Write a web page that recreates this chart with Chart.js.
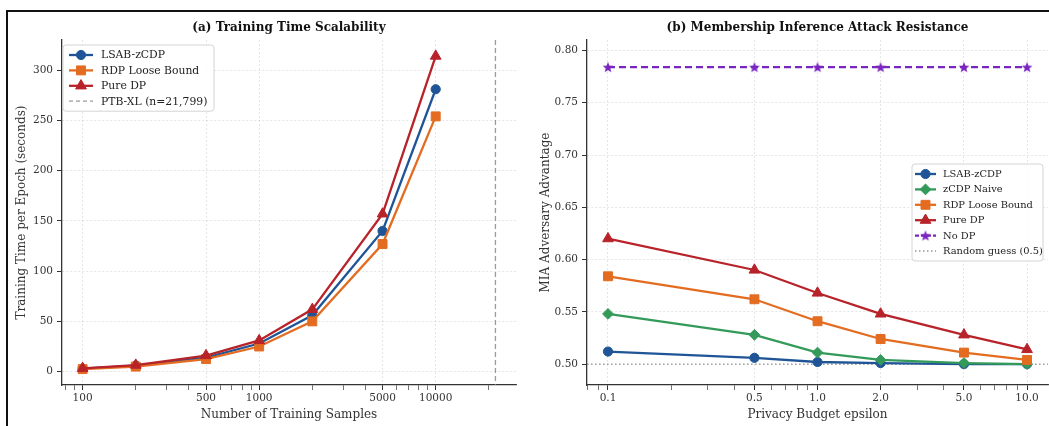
<!DOCTYPE html>
<html><head><meta charset="utf-8">
<script src="https://cdn.jsdelivr.net/npm/chart.js@4.4.1/dist/chart.umd.min.js"></script>
<style>
html,body{margin:0;padding:0;background:#fff;width:1049px;height:426px;overflow:hidden;}
#frame{position:absolute;left:6px;top:10px;width:1100px;height:500px;border-left:2px solid #111;border-top:2px solid #111;box-sizing:border-box;}
#wa{position:absolute;left:0;top:0;width:530px;height:426px;}
#wb{position:absolute;left:530px;top:0;width:519px;height:426px;}
</style></head><body>
<div id="frame"></div>
<div id="wa"><canvas id="ca"></canvas></div>
<div id="wb"><canvas id="cb"></canvas></div>
<script>
// ---------- data: panel (a) ----------
const sampleSizes = [100, 200, 500, 1000, 2000, 5000, 10000];
const timeLSAB = [3, 6, 14, 28, 56, 140, 281];
const timeRDP = [2.5, 5, 12.5, 25, 50, 127, 254];
const timePure = [3.3, 6.5, 16, 31, 62, 157, 314];
const ptbxlSize = 21799;
const timeXTicks = [100, 500, 1000, 5000, 10000];
const timeXMinor = [80, 90, 200, 300, 400, 600, 700, 800, 900, 2000, 3000, 4000, 6000, 7000, 8000, 9000, 20000];
const timeYTicks = [0, 50, 100, 150, 200, 250, 300];

// ---------- data: panel (b) ----------
const epsilons = [0.1, 0.5, 1.0, 2.0, 5.0, 10.0];
const miaLSAB = [0.512, 0.506, 0.502, 0.501, 0.500, 0.500];
const miaZCDP = [0.548, 0.528, 0.511, 0.504, 0.501, 0.500];
const miaRDP = [0.584, 0.562, 0.541, 0.524, 0.511, 0.504];
const miaPure = [0.620, 0.590, 0.568, 0.548, 0.528, 0.514];
const miaNoDP = [0.784, 0.784, 0.784, 0.784, 0.784, 0.784];
const randomGuess = 0.5;
const epsXTicks = [0.1, 0.5, 1.0, 2.0, 5.0, 10.0];
const epsXMinor = [0.08, 0.09, 0.2, 0.3, 0.4, 0.6, 0.7, 0.8, 0.9, 3, 4, 6, 7, 8, 9];
const miaYTicks = [0.50, 0.55, 0.60, 0.65, 0.70, 0.75, 0.80];

// ---------- styles ----------
const C = {
  blue: '#1f5596', orange: '#e36c21', red: '#b8232a', green: '#339a5a', purple: '#7a25c0'
};
const FONT = "'DejaVu Serif', serif";
const GRID = 'rgba(0,0,0,0.13)';
const AXIS = '#333333';
const LW = 2.3;

function starImage(color, size) {
  const c = document.createElement('canvas');
  c.width = c.height = size;
  const g = c.getContext('2d');
  const cx = size / 2, cy = size / 2 + 0.5, R = size / 2 - 0.3, r = R * 0.42;
  g.beginPath();
  for (let i = 0; i < 10; i++) {
    const a = -Math.PI / 2 + i * Math.PI / 5;
    const rr = i % 2 ? r : R;
    g.lineTo(cx + rr * Math.cos(a), cy + rr * Math.sin(a));
  }
  g.closePath();
  g.fillStyle = color;
  g.fill();
  return c;
}
const STAR = starImage(C.purple, 12);

function pts(xs, ys) { return xs.map((x, i) => ({x: x, y: ys[i]})); }

function series(label, xs, ys, color, style, radius, order, dash) {
  return {
    label: label, data: pts(xs, ys), borderColor: color, backgroundColor: color,
    borderWidth: LW, borderDash: dash || [], pointStyle: style, pointRadius: radius,
    pointHoverRadius: radius, pointBackgroundColor: color, pointBorderColor: color,
    pointBorderWidth: 1, tension: 0, order: order, fill: false, clip: false
  };
}

function drawMarker(ctx, style, x, y, color, r) {
  ctx.save();
  if (style instanceof HTMLCanvasElement) {
    ctx.drawImage(style, x - style.width / 2, y - style.height / 2);
    ctx.restore();
    return;
  }
  ctx.fillStyle = color; ctx.strokeStyle = color; ctx.lineWidth = 1;
  ctx.beginPath();
  if (style === 'circle') ctx.arc(x, y, r, 0, Math.PI * 2);
  else if (style === 'rect') { const s = r * Math.SQRT1_2; ctx.rect(x - s, y - s, 2 * s, 2 * s); }
  else if (style === 'rectRot') { ctx.moveTo(x, y - r); ctx.lineTo(x + r, y); ctx.lineTo(x, y + r); ctx.lineTo(x - r, y); ctx.closePath(); }
  else if (style === 'triangle') {
    let a = 0;
    ctx.moveTo(x + Math.sin(a) * r, y - Math.cos(a) * r);
    a += 2 * Math.PI / 3; ctx.lineTo(x + Math.sin(a) * r, y - Math.cos(a) * r);
    a += 2 * Math.PI / 3; ctx.lineTo(x + Math.sin(a) * r, y - Math.cos(a) * r);
    ctx.closePath();
  }
  ctx.fill(); ctx.stroke();
  ctx.restore();
}

function roundRect(ctx, x, y, w, h, r) {
  ctx.beginPath();
  ctx.moveTo(x + r, y); ctx.lineTo(x + w - r, y); ctx.quadraticCurveTo(x + w, y, x + w, y + r);
  ctx.lineTo(x + w, y + h - r); ctx.quadraticCurveTo(x + w, y + h, x + w - r, y + h);
  ctx.lineTo(x + r, y + h); ctx.quadraticCurveTo(x, y + h, x, y + h - r);
  ctx.lineTo(x, y + r); ctx.quadraticCurveTo(x, y, x + r, y); ctx.closePath();
}

// custom matplotlib-like legend
const mplLegend = {
  id: 'mplLegend',
  afterDraw(chart, args, o) {
    if (!o || !o.items) return;
    const ctx = chart.ctx, ca = chart.chartArea;
    const rowH = o.rowHeight, padY = o.padY;
    const h = padY * 2 + rowH * (o.items.length - 1);
    const w = o.width;
    let x0, y0;
    if (o.loc === 'upper left') { x0 = ca.left + o.offsetX; y0 = ca.top + o.offsetY; }
    else { x0 = ca.right - o.offsetX - w; y0 = (ca.top + ca.bottom) / 2 - h / 2; }
    ctx.save();
    roundRect(ctx, x0, y0, w, h, 3);
    ctx.fillStyle = 'rgba(255,255,255,0.85)'; ctx.fill();
    ctx.strokeStyle = '#d4d4d4'; ctx.lineWidth = 1; ctx.stroke();
    ctx.font = o.fontSize + 'px ' + FONT;
    ctx.textBaseline = 'middle'; ctx.textAlign = 'left';
    o.items.forEach((it, i) => {
      const y = y0 + padY + i * rowH;
      const lx1 = x0 + o.sampleX, lx2 = lx1 + o.sampleLen;
      ctx.save();
      ctx.strokeStyle = it.color; ctx.lineWidth = it.lineWidth || LW;
      ctx.setLineDash(it.dash || []);
      ctx.beginPath(); ctx.moveTo(lx1, y); ctx.lineTo(lx2, y); ctx.stroke();
      ctx.restore();
      if (it.style) drawMarker(ctx, it.style, (lx1 + lx2) / 2, y, it.color, it.radius);
      ctx.fillStyle = '#222';
      ctx.fillText(it.label, lx2 + o.textGap, y + 0.5);
    });
    ctx.restore();
  }
};

// reference lines drawn through the scales
const refLines = {
  id: 'refLines',
  beforeDatasetsDraw(chart, args, o) {
    if (!o || !o.lines) return;
    const ctx = chart.ctx, ca = chart.chartArea;
    o.lines.forEach(l => {
      ctx.save();
      ctx.strokeStyle = l.color; ctx.lineWidth = l.width; ctx.setLineDash(l.dash);
      ctx.beginPath();
      if (l.axis === 'x') {
        const px = chart.scales.x.getPixelForValue(l.value);
        ctx.moveTo(px, ca.top); ctx.lineTo(px, ca.bottom);
      } else {
        const py = chart.scales.y.getPixelForValue(l.value);
        ctx.moveTo(ca.left, py); ctx.lineTo(ca.right, py);
      }
      ctx.stroke();
      ctx.restore();
    });
  }
};

function logXScale(min, max, majors, minors, fmt, title, height) {
  const majorSet = new Set(majors);
  return {
    type: 'logarithmic', min: min, max: max,
    afterBuildTicks(scale) {
      const all = majors.map(v => ({value: v, minor: false})).concat(minors.map(v => ({value: v, minor: true})));
      all.sort((a, b) => a.value - b.value);
      scale.ticks = all;
    },
    afterFit(scale) { scale.height = height; scale.paddingLeft = 0; scale.paddingRight = 0; },
    ticks: {
      autoSkip: false, maxRotation: 0, minRotation: 0, padding: 2,
      color: '#333', font: {family: FONT, size: 10.5},
      callback: function (v) { return majorSet.has(v) ? fmt(v) : ''; }
    },
    grid: {
      color: ctx => (ctx.tick && ctx.tick.minor) ? 'rgba(0,0,0,0)' : GRID,
      lineWidth: 0.8, tickLength: 5,
      tickColor: AXIS, tickWidth: ctx => (ctx.tick && ctx.tick.minor) ? 0.7 : 1
    },
    border: {display: true, color: AXIS, width: 1.3, dash: [2, 2]},
    title: {display: true, text: title, color: '#333', font: {family: FONT, size: 12}, padding: {top: 0, bottom: 4}}
  };
}

function linYScale(min, max, tickVals, fmt, title, width, titlePad) {
  return {
    type: 'linear', min: min, max: max,
    afterBuildTicks(scale) { scale.ticks = tickVals.map(v => ({value: v})); },
    afterFit(scale) { scale.width = width; scale.paddingTop = 0; scale.paddingBottom = 0; },
    ticks: {color: '#333', padding: 4, font: {family: FONT, size: 10.5}, callback: v => fmt(v)},
    grid: {color: GRID, lineWidth: 0.8, tickLength: 5, tickColor: AXIS, tickWidth: 1},
    border: {display: true, color: AXIS, width: 1.3, dash: [2, 2]},
    title: {display: true, text: title, color: '#333', font: {family: FONT, size: 12}, padding: {top: titlePad, bottom: 0}}
  };
}

function titleOpts(text) {
  return {
    display: true, text: text, fullSize: false, color: '#111',
    font: {family: FONT, size: 12, weight: 'bold'}, padding: {top: 21, bottom: 4.6}
  };
}

Chart.defaults.animation = false;
Chart.defaults.font.family = FONT;

// ---------- chart (a) ----------
new Chart(document.getElementById('ca'), {
  type: 'line',
  data: {
    datasets: [
      series('LSAB-zCDP', sampleSizes, timeLSAB, C.blue, 'circle', 4.6, 3),
      series('RDP Loose Bound', sampleSizes, timeRDP, C.orange, 'rect', 6.3, 2),
      series('Pure DP', sampleSizes, timePure, C.red, 'triangle', 6.2, 1)
    ]
  },
  options: {
    responsive: true, maintainAspectRatio: false, animation: false,
    layout: {autoPadding: false, padding: {left: 0, right: 14, top: 0, bottom: 0}},
    scales: {
      x: logXScale(76.4, 28500, timeXTicks, timeXMinor, v => String(v), 'Number of Training Samples', 41),
      y: linYScale(-13.3, 330, timeYTicks, v => String(v), 'Training Time per Epoch (seconds)', 62, 15)
    },
    plugins: {
      legend: {display: false}, tooltip: {enabled: false},
      title: titleOpts('(a) Training Time Scalability'),
      refLines: {lines: [{axis: 'x', value: ptbxlSize, color: 'rgba(130,130,130,0.8)', width: 1.3, dash: [5, 3]}]},
      mplLegend: {
        loc: 'upper left', offsetX: 1, offsetY: 5, width: 151, rowHeight: 15.4, padY: 10,
        sampleX: 6, sampleLen: 24, textGap: 8, fontSize: 10.8,
        items: [
          {label: 'LSAB-zCDP', color: C.blue, style: 'circle', radius: 4.6},
          {label: 'RDP Loose Bound', color: C.orange, style: 'rect', radius: 6.3},
          {label: 'Pure DP', color: C.red, style: 'triangle', radius: 6.2},
          {label: 'PTB-XL (n=21,799)', color: 'rgba(130,130,130,0.8)', lineWidth: 1.3, dash: [4, 3]}
        ]
      }
    }
  },
  plugins: [refLines, mplLegend]
});

// ---------- chart (b) ----------
new Chart(document.getElementById('cb'), {
  type: 'line',
  data: {
    datasets: [
      series('LSAB-zCDP', epsilons, miaLSAB, C.blue, 'circle', 4.6, 5),
      series('zCDP Naive', epsilons, miaZCDP, C.green, 'rectRot', 5.4, 4),
      series('RDP Loose Bound', epsilons, miaRDP, C.orange, 'rect', 6.3, 3),
      series('Pure DP', epsilons, miaPure, C.red, 'triangle', 6.2, 2),
      series('No DP', epsilons, miaNoDP, C.purple, STAR, 6, 1, [7, 4])
    ]
  },
  options: {
    responsive: true, maintainAspectRatio: false, animation: false,
    layout: {autoPadding: false, padding: {left: 0, right: 1, top: 0, bottom: 0}},
    scales: {
      x: logXScale(0.0794, 12.59, epsXTicks, epsXMinor, v => v.toFixed(1), 'Privacy Budget epsilon', 41),
      y: linYScale(0.48, 0.81, miaYTicks, v => v.toFixed(2), 'MIA Adversary Advantage', 57, 9)
    },
    plugins: {
      legend: {display: false}, tooltip: {enabled: false},
      title: titleOpts('(b) Membership Inference Attack Resistance'),
      refLines: {lines: [{axis: 'y', value: randomGuess, color: 'rgba(120,120,120,0.8)', width: 1.4, dash: [1.5, 2.5]}]},
      mplLegend: {
        loc: 'center right', offsetX: 5, width: 131, rowHeight: 15.4, padY: 10,
        sampleX: 3, sampleLen: 21, textGap: 7, fontSize: 9.9,
        items: [
          {label: 'LSAB-zCDP', color: C.blue, style: 'circle', radius: 4.6},
          {label: 'zCDP Naive', color: C.green, style: 'rectRot', radius: 5.4},
          {label: 'RDP Loose Bound', color: C.orange, style: 'rect', radius: 6.3},
          {label: 'Pure DP', color: C.red, style: 'triangle', radius: 6.2},
          {label: 'No DP', color: C.purple, style: STAR, dash: [4, 2]},
          {label: 'Random guess (0.5)', color: 'rgba(120,120,120,0.8)', lineWidth: 1.4, dash: [1.5, 2.5]}
        ]
      }
    }
  },
  plugins: [refLines, mplLegend]
});
</script>
</body></html>
